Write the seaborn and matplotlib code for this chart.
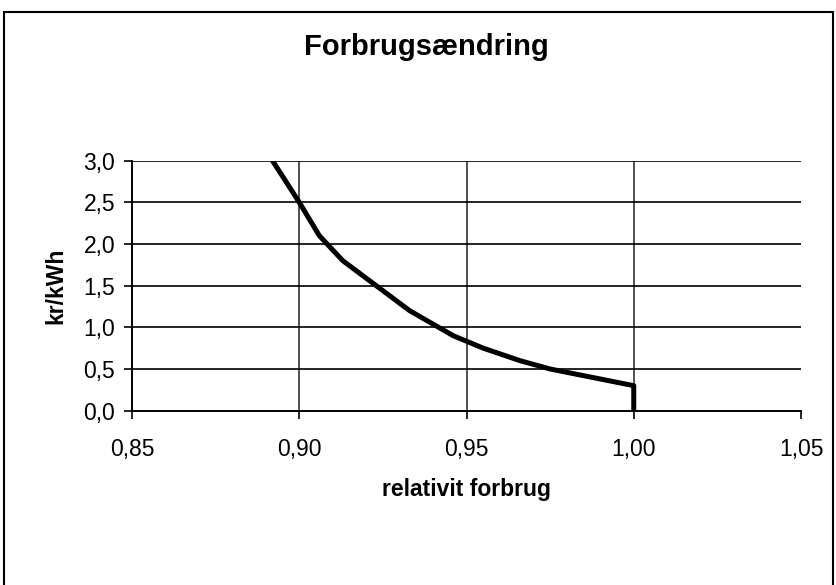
import seaborn as sns
import matplotlib.pyplot as plt
from matplotlib.patches import Rectangle

# data
forbrug = [1.000, 1.000, 0.975, 0.966, 0.955, 0.946, 0.933, 0.923, 0.913, 0.906, 0.900, 0.892]
pris = [0.0, 0.3, 0.5, 0.6, 0.75, 0.9, 1.2, 1.5, 1.8, 2.1, 2.5, 3.0]
x_ticks = [0.85, 0.90, 0.95, 1.00, 1.05]
y_ticks = [0.0, 0.5, 1.0, 1.5, 2.0, 2.5, 3.0]

sns.set_theme(style="white")
plt.rcParams["font.family"] = ["Liberation Sans", "DejaVu Sans"]
plt.rcParams["text.color"] = "black"
plt.rcParams["axes.labelcolor"] = "black"

fig = plt.figure(figsize=(8.37, 5.85), dpi=100)
ax = fig.add_axes([0.1577, 0.298, 0.7993, 0.4274])

sns.lineplot(x=forbrug, y=pris, sort=False, estimator=None, color="black",
             linewidth=3.6, ax=ax)

ax.set_xlim(0.85, 1.05)
ax.set_ylim(0, 3.0)
ax.set_xticks(x_ticks)
ax.set_yticks(y_ticks)
ax.set_xticklabels([f"{v:.2f}".replace(".", ",") for v in x_ticks], fontsize=16.5)
ax.set_yticklabels([f"{v:.1f}".replace(".", ",") for v in y_ticks], fontsize=16.5)
ax.tick_params(axis="both", direction="out", length=6, width=1.2, color="black",
               bottom=True, left=True, labelcolor="black")
ax.tick_params(axis="x", pad=14)
ax.tick_params(axis="y", pad=6)

for v in x_ticks[1:-1]:
    ax.axvline(v, color="#333333", linewidth=1.2, zorder=0)
for v in y_ticks[1:]:
    ax.axhline(v, color="black", linewidth=1.2, zorder=0)

for s in ["top", "right"]:
    ax.spines[s].set_visible(False)
for s in ["left", "bottom"]:
    ax.spines[s].set_color("black")
    ax.spines[s].set_linewidth(1.4)

ax.set_xlabel("relativit forbrug", fontsize=16.5, fontweight="bold", labelpad=12,
              color="black")
ax.set_ylabel("kr/kWh", fontsize=16.5, fontweight="bold", labelpad=12, color="black")

fig.text(0.51, 0.92, "Forbrugsændring", ha="center", va="center",
         fontsize=21, fontweight="bold", color="black")

fig.patches.append(Rectangle((0.005, -0.1), 0.99, 1.08, transform=fig.transFigure,
                             fill=False, edgecolor="black", linewidth=1.5))

fig.savefig("out.png", dpi=100)
